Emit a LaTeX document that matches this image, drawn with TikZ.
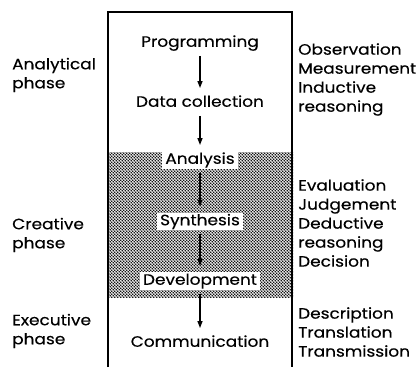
\documentclass[tikz,border=0pt]{standalone}
\usepackage{fontspec}
\setmainfont{Poppins}[FakeStretch=1.13,FakeBold=0.3]
\usetikzlibrary{arrows.meta,patterns}
\pgfdeclarepatternformonly{dotscreen}{\pgfqpoint{-1pt}{-1pt}}{\pgfqpoint{4pt}{4pt}}{\pgfqpoint{3pt}{3pt}}{%
  \pgfpathcircle{\pgfqpoint{0.75pt}{0.75pt}}{0.8pt}%
  \pgfpathcircle{\pgfqpoint{2.25pt}{2.25pt}}{0.8pt}%
  \pgfusepath{fill}}
\tikzset{
  lbl/.style={font=\fontsize{15}{19}\selectfont, inner sep=0pt},
  side/.style={lbl, align=left, anchor=west},
  stage/.style={font=\fontsize{15}{19}\selectfont, text height=11pt, text depth=3.5pt, inner ysep=1.5pt, inner xsep=3pt},
  wstage/.style={stage, fill=white},
  arr/.style={line width=1.3pt, -{Triangle[length=7pt,width=5pt]}, shorten <=4pt, shorten >=6pt},
  tarr/.style={arr, line width=2.2pt}
}
\begin{document}
\begin{tikzpicture}[x=1pt,y=-1pt]
\useasboundingbox (0,0) rectangle (420,367);
% frame
\draw[line width=1.4pt] (108,367) -- (108,12) -- (292,12) -- (292,367);
% shaded band
\fill[pattern=dotscreen] (109,152) rectangle (293,297);
% stages
\node[stage]  (prog) at (200,43) {Programming};
\node[stage]  (data) at (200,103) {Data collection};
\node[wstage] (ana)  at (200,160) {Analysis};
\node[wstage] (syn)  at (200,221.5) {Synthesis};
\node[wstage] (dev)  at (200,281) {Development};
\node[stage]  (comm) at (200,343) {Communication};
\draw[arr]  (prog) -- (data);
\draw[arr]  (data) -- (ana);
\draw[tarr] (ana) -- (syn);
\draw[tarr] (syn) -- (dev);
\draw[arr]  (dev) -- (comm);
% left labels
\node[side] (lan) at (12,75)  {Analytical\\phase};
\node[side] (lcr) at (12,235) {Creative\\phase};
\node[side] (lex) at (12,331) {Executive\\phase};
% right labels
\node[side] (ran) at (298,79.5) {Observation\\Measurement\\Inductive\\reasoning};
\node[side] (rcr) at (298,223) {Evaluation\\Judgement\\Deductive\\reasoning\\Decision};
\node[side] (rex) at (298,332) {Description\\Translation\\Transmission};
\end{tikzpicture}
\end{document}
